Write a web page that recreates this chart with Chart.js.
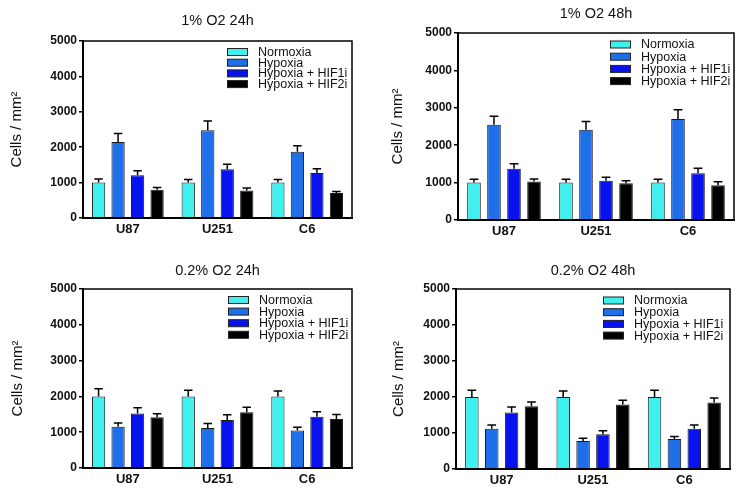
<!DOCTYPE html>
<html>
<head>
<meta charset="utf-8">
<script src="https://cdn.jsdelivr.net/npm/chart.js@4"></script>
<style>
  body { margin: 0; background: #fff; }
  canvas { position: absolute; }
</style>
</head>
<body>
<canvas id="p1" width="373" height="245" style="left:0;top:0"></canvas>
<canvas id="p2" width="373" height="245" style="left:373px;top:0"></canvas>
<canvas id="p3" width="373" height="245" style="left:0;top:245px"></canvas>
<canvas id="p4" width="373" height="245" style="left:373px;top:245px"></canvas>
<script>
'use strict';

// data (mean, error), rows = treatments, cols = cell lines
const cellLines = ['U87', 'U251', 'C6'];
const treatments = ['Normoxia', 'Hypoxia', 'Hypoxia + HIF1i', 'Hypoxia + HIF2i'];
const yTicks = [0, 1000, 2000, 3000, 4000, 5000];
const panelTitles = ['1% O2 24h', '1% O2 48h', '0.2% O2 24h', '0.2% O2 48h'];

const means1pct24h = [[1000, 1000, 1000], [2150, 2480, 1870], [1210, 1380, 1270], [800, 780, 705]];
const errs1pct24h  = [[100, 90, 90], [240, 260, 170], [125, 140, 120], [65, 65, 45]];
const means1pct48h = [[1000, 1000, 1000], [2550, 2410, 2700], [1370, 1050, 1250], [1030, 980, 930]];
const errs1pct48h  = [[90, 90, 90], [225, 225, 250], [135, 95, 135], [65, 70, 95]];
const means02pct24h = [[2000, 2000, 2000], [1150, 1120, 1045], [1520, 1340, 1430], [1420, 1560, 1370]];
const errs02pct24h  = [[215, 170, 150], [110, 120, 95], [160, 150, 140], [95, 140, 125]];
const means02pct48h = [[2000, 2000, 2000], [1120, 780, 830], [1570, 965, 1120], [1740, 1790, 1850]];
const errs02pct48h  = [[185, 170, 185], [105, 75, 75], [150, 95, 105], [120, 120, 120]];

const colors = ['#3ff0ef', '#1f6fe9', '#0812ee', '#000000'];
const FONT = '"Liberation Sans", Arial, sans-serif';

// plot-area placement per panel (canvas coords)
const panels = [
  { id: 'p1', means: means1pct24h, errs: errs1pct24h, area: [83, 41, 352, 218], titleY: 21, yTitleX: 17, legY: 52, legStep: 10.7, legRight: 125 },
  { id: 'p2', means: means1pct48h, errs: errs1pct48h, area: [85, 33, 361, 220], titleY: 14, yTitleX: 25, legY: 44.5, legStep: 12.2, legRight: 124 },
  { id: 'p3', means: means02pct24h, errs: errs02pct24h, area: [83, 44, 352, 223], titleY: 26, yTitleX: 18, legY: 55, legStep: 11.6, legRight: 124 },
  { id: 'p4', means: means02pct48h, errs: errs02pct48h, area: [83, 44, 357, 224], titleY: 26, yTitleX: 26, legY: 55.5, legStep: 11.7, legRight: 127 }
];

// error bars (upper only, with cap)
const errorBars = {
  id: 'errorBars',
  afterDatasetsDraw(chart) {
    const ctx = chart.ctx, y = chart.scales.y;
    ctx.save();
    ctx.strokeStyle = '#000';
    ctx.lineWidth = 1.5;
    chart.data.datasets.forEach(function(ds, i) {
      chart.getDatasetMeta(i).data.forEach(function(bar, j) {
        const top = y.getPixelForValue(ds.data[j] + ds.errors[j]);
        const half = bar.width * 0.32;
        ctx.beginPath();
        ctx.moveTo(bar.x, bar.y);
        ctx.lineTo(bar.x, top);
        ctx.moveTo(bar.x - half, top);
        ctx.lineTo(bar.x + half, top);
        ctx.stroke();
      });
    });
    ctx.restore();
  }
};

// frame, title and legend
const decor = {
  id: 'decor',
  afterDraw(chart) {
    const ctx = chart.ctx, a = chart.chartArea, p = chart.options.plugins.decor;
    ctx.save();
    ctx.strokeStyle = '#000';
    ctx.lineWidth = 1.5;
    ctx.strokeRect(a.left, a.top, a.right - a.left, a.bottom - a.top);

    ctx.fillStyle = '#111';
    ctx.font = '14.5px ' + FONT;
    ctx.textAlign = 'center';
    ctx.textBaseline = 'middle';
    ctx.fillText(p.title, (a.left + a.right) / 2, p.titleY);

    ctx.font = '12.5px ' + FONT;
    ctx.textAlign = 'left';
    chart.data.datasets.forEach(function(ds, i) {
      const cy = p.legY + i * p.legStep;
      const bx = a.right - p.legRight;
      ctx.fillStyle = ds.backgroundColor;
      ctx.fillRect(bx, cy - 3.5, 20, 7);
      ctx.lineWidth = 1;
      ctx.strokeStyle = '#222';
      ctx.strokeRect(bx + 0.5, cy - 3.5, 20, 7);
      ctx.fillStyle = '#111';
      ctx.fillText(ds.label, bx + 31, cy + 0.5);
    });
    ctx.restore();
  }
};

panels.forEach(function(p, k) {
  const canvas = document.getElementById(p.id);
  const [left, top, right, bottom] = p.area;
  new Chart(canvas, {
    type: 'bar',
    data: {
      labels: cellLines,
      datasets: treatments.map(function(t, i) {
        return {
          label: t,
          data: p.means[i],
          errors: p.errs[i],
          backgroundColor: colors[i],
          borderColor: '#1a1a1a',
          borderWidth: 1,
          categoryPercentage: 0.87,
          barPercentage: 0.68
        };
      })
    },
    options: {
      responsive: false,
      animation: false,
      layout: { padding: { top: top, right: canvas.width - right, left: 0, bottom: 0 } },
      plugins: {
        legend: { display: false },
        tooltip: { enabled: false },
        decor: { title: panelTitles[k], titleY: p.titleY, legY: p.legY, legStep: p.legStep, legRight: p.legRight }
      },
      scales: {
        x: {
          grid: { display: false, drawTicks: false },
          border: { color: '#000', width: 2 },
          ticks: { color: '#111', padding: 4, font: { family: FONT, size: 13, weight: 'bold' } },
          afterFit: function(s) { s.height = canvas.height - bottom; }
        },
        y: {
          min: 0,
          max: 5000,
          afterBuildTicks: function(s) { s.ticks = yTicks.map(function(v) { return { value: v }; }); },
          grid: { drawOnChartArea: false, drawTicks: true, tickLength: 4, color: '#000', lineWidth: 1.5 },
          border: { color: '#000', width: 2 },
          ticks: { color: '#111', padding: 2, font: { family: FONT, size: 12, weight: 'bold' },
                   callback: function(v) { return String(v); } },
          title: { display: true, text: 'Cells / mm²', color: '#111',
                   font: { family: FONT, size: 15 }, padding: { top: p.yTitleX - 9, bottom: 0 } },
          afterFit: function(s) { s.width = left; }
        }
      }
    },
    plugins: [errorBars, decor]
  });
});
</script>
</body>
</html>
